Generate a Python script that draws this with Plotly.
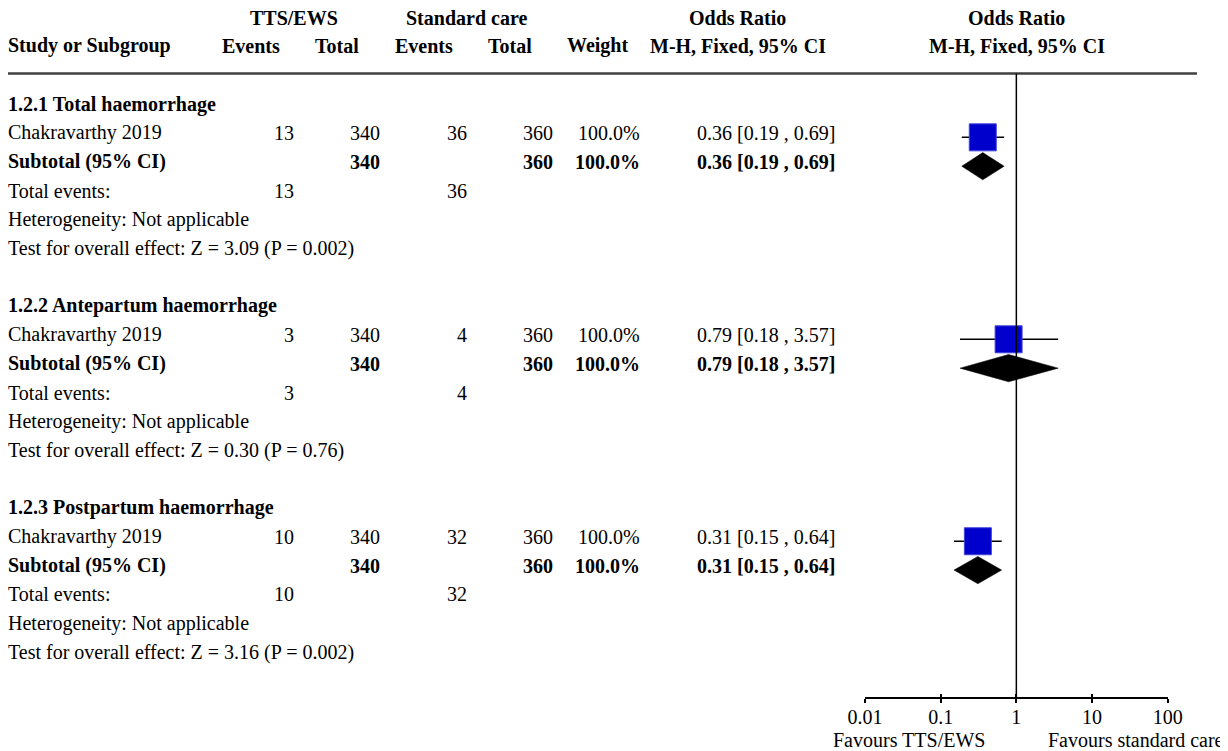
import plotly.graph_objects as go

# ---------------- data ----------------
subgroups = ["1.2.1 Total haemorrhage", "1.2.2 Antepartum haemorrhage", "1.2.3 Postpartum haemorrhage"]
studies = ["Chakravarthy 2019", "Chakravarthy 2019", "Chakravarthy 2019"]
events_tts = [13, 3, 10]
total_tts = [340, 340, 340]
events_std = [36, 4, 32]
total_std = [360, 360, 360]
weights = [100.0, 100.0, 100.0]
or_est = [0.36, 0.79, 0.31]
ci_lo = [0.19, 0.18, 0.15]
ci_hi = [0.69, 3.57, 0.64]
z_vals = ["3.09", "0.30", "3.16"]
p_vals = ["0.002", "0.76", "0.002"]
tick_vals = [0.01, 0.1, 1, 10, 100]
tick_text = ["0.01", "0.1", "1", "10", "100"]

# ---------------- layout constants ----------------
PAGE_OFF = 8               # default body margin of the html page
W, H = 1228 - PAGE_OFF, 751 - PAGE_OFF
FONT = "Liberation Serif, Times New Roman, serif"
FS = 20
ROW0 = 108.5      # screen pixel of first mark row
ROWH = 28.85      # pixels per row
TEXT_SHIFT = 4.5  # text sits slightly above mark centre

def prow(px):
    return (px - ROW0) / ROWH

def xp(px):
    return (px - PAGE_OFF) / W

def yp(px):
    return 1 - (px - PAGE_OFF) / H

fig = go.Figure()
annotations = []

def txt(x, row, s, anchor="left", bold=False):
    annotations.append(dict(
        x=xp(x), y=row, xref="paper", yref="y", text=("<b>%s</b>" % s) if bold else s,
        showarrow=False, xanchor=anchor, yanchor="middle", yshift=TEXT_SHIFT, borderpad=0,
        font=dict(family=FONT, size=FS, color="black")))

def htxt(x, py, s, anchor="center", bold=True):
    annotations.append(dict(
        x=xp(x), y=yp(py), xref="paper", yref="paper", text=("<b>%s</b>" % s) if bold else s,
        showarrow=False, xanchor=anchor, yanchor="middle", borderpad=0,
        font=dict(family=FONT, size=FS, color="black")))

# headers
htxt(293.5, 18, "TTS/EWS")
htxt(466.5, 18, "Standard care")
htxt(737.5, 18, "Odds Ratio")
htxt(1016.5, 18, "Odds Ratio")
htxt(7, 45.5, "Study or Subgroup", anchor="left")
htxt(250.5, 45.5, "Events")
htxt(336.5, 45.5, "Total")
htxt(424.5, 45.5, "Events")
htxt(509.5, 45.5, "Total")
htxt(597, 45.5, "Weight")
htxt(737.5, 45.5, "M-H, Fixed, 95% CI")
htxt(1016.5, 45.5, "M-H, Fixed, 95% CI")

X_LEFT = 7
X_EV1, X_TOT1, X_EV2, X_TOT2, X_W, X_CI = 294.5, 381, 468, 554, 641, 836

sq_x, sq_y, ci_x, ci_y = [], [], [], []
for g in range(len(subgroups)):
    s = 7 * g
    txt(X_LEFT, s, subgroups[g], bold=True)
    # study row
    r = s + 1
    txt(X_LEFT, r, studies[g])
    txt(X_EV1, r, str(events_tts[g]), "right")
    txt(X_TOT1, r, str(total_tts[g]), "right")
    txt(X_EV2, r, str(events_std[g]), "right")
    txt(X_TOT2, r, str(total_std[g]), "right")
    txt(X_W, r, "%.1f%%" % weights[g], "right")
    txt(X_CI, r, "%.2f [%.2f , %.2f]" % (or_est[g], ci_lo[g], ci_hi[g]), "right")
    sq_x.append(or_est[g]); sq_y.append(r)
    ci_x += [ci_lo[g], ci_hi[g], None]; ci_y += [r, r, None]
    # subtotal row
    r = s + 2
    txt(X_LEFT, r, "Subtotal (95% CI)", bold=True)
    txt(X_TOT1, r, str(total_tts[g]), "right", bold=True)
    txt(X_TOT2, r, str(total_std[g]), "right", bold=True)
    txt(X_W, r, "%.1f%%" % weights[g], "right", bold=True)
    txt(X_CI, r, "%.2f [%.2f , %.2f]" % (or_est[g], ci_lo[g], ci_hi[g]), "right", bold=True)
    hh = 0.473
    fig.add_trace(go.Scatter(
        x=[ci_lo[g], or_est[g], ci_hi[g], or_est[g], ci_lo[g]],
        y=[r, r - hh, r, r + hh, r],
        mode="lines", fill="toself", fillcolor="black",
        line=dict(color="black", width=0.5), hoverinfo="skip", showlegend=False))
    # total events
    r = s + 3
    txt(X_LEFT, r, "Total events:")
    txt(X_EV1, r, str(events_tts[g]), "right")
    txt(X_EV2, r, str(events_std[g]), "right")
    txt(X_LEFT, s + 4, "Heterogeneity: Not applicable")
    txt(X_LEFT, s + 5, "Test for overall effect: Z = %s (P = %s)" % (z_vals[g], p_vals[g]))

fig.add_trace(go.Scatter(x=ci_x, y=ci_y, mode="lines",
                         line=dict(color="black", width=1.5),
                         hoverinfo="skip", showlegend=False))
fig.add_trace(go.Scatter(x=sq_x, y=sq_y, mode="markers",
                         marker=dict(symbol="square", size=27, color="#0000CC",
                                     line=dict(color="#4444dd", width=1)),
                         hoverinfo="skip", showlegend=False))

# favours labels
htxt(986, 740, "Favours TTS/EWS", anchor="right", bold=False)
htxt(1047, 740, "Favours standard care", anchor="left", bold=False)

axis_py = 698
shapes = [
    dict(type="line", xref="paper", yref="paper", x0=xp(8), x1=xp(1197),
         y0=yp(73.5), y1=yp(73.5), line=dict(color="#404040", width=2.5)),
    dict(type="line", xref="x", yref="y", x0=1, x1=1, y0=prow(73.5), y1=prow(axis_py),
         line=dict(color="black", width=1.5)),
]

xdom = [xp(865), xp(1167.7)]
common = dict(type="log", range=[-2, 2], anchor="free", position=yp(axis_py),
              showgrid=False, zeroline=False, tickvals=tick_vals,
              tickwidth=1.5, tickcolor="black", automargin=False)
fig.update_layout(
    width=W, height=H, margin=dict(l=0, r=0, t=0, b=0, autoexpand=False),
    paper_bgcolor="white", plot_bgcolor="white",
    annotations=annotations, shapes=shapes, showlegend=False,
    font=dict(family=FONT, size=FS, color="black"),
    xaxis=dict(domain=xdom, showline=True, linecolor="black", linewidth=1.5,
               ticks="outside", ticklen=1, ticktext=tick_text,
               tickfont=dict(family=FONT, size=FS, color="black"), **common),
    xaxis2=dict(overlaying="x", ticks="outside", ticklen=4, showticklabels=False,
                showline=False, **common),
    xaxis3=dict(overlaying="x", ticks="inside", ticklen=4, showticklabels=False,
                showline=False, **common),
    yaxis=dict(range=[prow(751), prow(PAGE_OFF)], domain=[0, 1], visible=False,
               fixedrange=True, automargin=False),
)
# invisible anchors so the overlay tick axes are drawn
for ax in ["x2", "x3"]:
    fig.add_trace(go.Scatter(x=[1], y=[prow(751) + 1], xaxis=ax, yaxis="y", mode="markers",
                             marker=dict(size=1, opacity=0), hoverinfo="skip", showlegend=False))

fig.write_html("out.html")
